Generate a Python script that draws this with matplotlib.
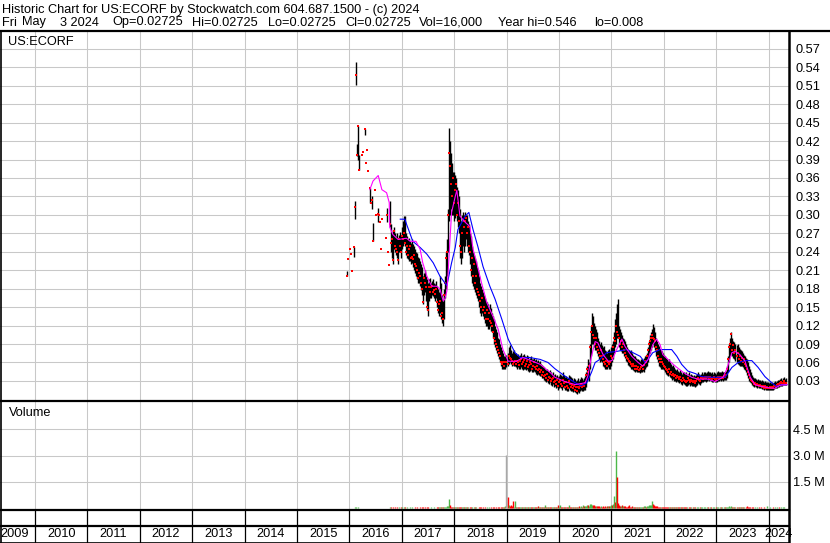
import numpy as np
import pandas as pd
import matplotlib
matplotlib.use('Agg')
import matplotlib.pyplot as plt
from matplotlib.lines import Line2D

# --- данные (недельные бары с 2015-12-07) ---
nan = np.nan
start_week = '2015-12-07'

hi = [
    nan, .208, .228, nan, .244, .236, .208, nan, .247, .322,
    .548, .416, .444, .398, nan, nan, .397, .402, nan, .440,
    .384, .406, .371, nan, .343, .320, .330, .286, nan, .341,
    .300, nan, .312, .300, .288, .244, .294, nan, nan, nan,
    .263, .312, .239, .219, .322, .285, .270, .275, .280, .270,
    .265, .270, .262, .268, .272, .265, .280, .290, .298, .298,
    .270, .265, .260, .262, .258, .255, .260, .252, .250, .245,
    .240, .238, .232, .230, .225, .220, .215, .200, .205, .210,
    .200, .195, .190, .195, .198, .190, .192, .195, .190, .188,
    .192, .185, .180, .175, .200, .190, .170, .160, .180, .200,
    .240, .260, .310, .442, .420, .400, .385, .370, .370, .365,
    .360, .345, .340, .330, .310, .290, .300, .305, .300, .305,
    .300, .300, .290, .285, .270, .265, .250, .240, .235, .230,
    .225, .215, .210, .200, .190, .185, .180, .175, .170, .165,
    .160, .158, .155, .150, .155, .148, .140, .135, .130, .120,
    .115, .110, .100, .098, .090, .085, .080, .075, .070, .070,
    .072, .075, .085, .089, .080, .075, .078, .080, .076, .075,
    .072, .074, .070, .072, .075, .070, .072, .074, .070, .068,
    .072, .070, .066, .068, .070, .066, .065, .068, .064, .065,
    .062, .064, .060, .062, .058, .056, .055, .052, .050, .048,
    .050, .046, .045, .048, .044, .042, .045, .040, .042, .038,
    .040, .036, .038, .042, .040, .038, .044, .040, .036, .038,
    .035, .034, .040, .038, .036, .034, .032, .035, .033, .030,
    .032, .034, .030, .033, .036, .034, .032, .035, .038, .045,
    .055, .065, .060, .090, .120, .141, .135, .125, .120, .115,
    .110, .100, .095, .090, .093, .088, .085, .086, .080, .078,
    .075, .080, .082, .078, .085, .090, .095, .110, .130, .140,
    .155, .164, .120, .114, .110, .105, .100, .098, .095, .090,
    .085, .082, .080, .078, .080, .075, .072, .070, .070, .068,
    .066, .065, .064, .062, .065, .066, .064, .068, .070, .072,
    .075, .085, .095, .105, .110, .115, .122, .118, .110, .100,
    .095, .090, .086, .082, .080, .078, .075, .072, .070, .068,
    .065, .062, .065, .060, .058, .055, .056, .052, .050, .048,
    .050, .046, .045, .048, .044, .042, .045, .044, .042, .044,
    .040, .042, .044, .040, .042, .040, .038, .040, .038, .040,
    .042, .044, .042, .040, .042, .044, .042, .044, .045, .043,
    .044, .046, .044, .045, .043, .044, .042, .044, .043, .042,
    .044, .046, .044, .045, .044, .046, .044, .045, .044, .046,
    .055, .070, .090, .100, .109, .100, .095, .093, .090, .088,
    .090, .085, .082, .080, .078, .075, .072, .070, .068, .065,
    .060, .055, .050, .045, .040, .036, .034, .035, .033, .032,
    .033, .031, .032, .030, .031, .030, .029, .030, .028, .029,
    .028, .027, .028, .027, .028, .027, .028, .030, .029, .030,
    .032, .031, .033, .035, .032, .034, .036, .033, .034,
]

lo = [
    nan, .200, .228, nan, .244, .236, .208, nan, .232, .293,
    .512, .395, .390, .373, nan, nan, .397, .402, nan, .430,
    .384, .406, .371, nan, .320, .320, .310, .257, nan, .341,
    .300, nan, .288, .300, .288, .244, .294, nan, nan, nan,
    .263, .288, .239, .219, .280, .240, .230, .220, .245, .240,
    .235, .230, .220, .240, .240, .230, .245, .250, .255, .250,
    .235, .230, .228, .225, .225, .220, .222, .215, .210, .205,
    .200, .195, .190, .190, .185, .178, .170, .155, .170, .175,
    .160, .145, .135, .160, .165, .165, .170, .168, .165, .160,
    .165, .150, .140, .135, .140, .130, .125, .119, .130, .165,
    .180, .200, .240, .290, .300, .310, .300, .300, .290, .295,
    .300, .290, .280, .270, .230, .220, .230, .250, .240, .250,
    .260, .250, .240, .235, .220, .200, .190, .185, .180, .175,
    .170, .165, .160, .150, .140, .135, .140, .135, .130, .125,
    .120, .120, .115, .115, .120, .112, .110, .100, .090, .085,
    .080, .075, .070, .065, .060, .055, .050, .050, .049, .050,
    .052, .055, .058, .060, .058, .055, .056, .055, .054, .052,
    .050, .052, .050, .050, .052, .050, .048, .050, .050, .048,
    .050, .046, .045, .046, .048, .044, .045, .046, .044, .042,
    .040, .042, .040, .038, .038, .035, .035, .032, .030, .028,
    .030, .026, .025, .028, .024, .022, .025, .020, .022, .018,
    .020, .016, .018, .020, .018, .016, .020, .018, .015, .016,
    .014, .013, .018, .016, .014, .013, .012, .014, .012, .010,
    .008, .012, .011, .013, .015, .014, .013, .015, .016, .020,
    .030, .035, .030, .050, .070, .090, .090, .085, .080, .080,
    .075, .070, .065, .060, .062, .060, .055, .052, .050, .050,
    .049, .052, .050, .050, .055, .060, .065, .075, .085, .090,
    .100, .100, .085, .080, .078, .076, .075, .070, .068, .062,
    .060, .056, .055, .052, .050, .050, .048, .046, .045, .046,
    .044, .045, .044, .043, .044, .045, .046, .045, .050, .052,
    .055, .060, .070, .075, .080, .085, .090, .085, .080, .070,
    .065, .060, .055, .052, .050, .050, .049, .048, .045, .042,
    .040, .038, .040, .036, .035, .032, .033, .030, .030, .028,
    .030, .028, .026, .028, .025, .024, .026, .025, .024, .022,
    .022, .024, .025, .022, .024, .022, .021, .022, .020, .022,
    .024, .026, .025, .024, .026, .028, .028, .030, .030, .029,
    .030, .031, .030, .031, .030, .029, .028, .030, .029, .028,
    .029, .030, .030, .031, .030, .031, .030, .032, .031, .032,
    .035, .045, .060, .070, .075, .070, .068, .065, .062, .060,
    .058, .056, .055, .054, .055, .052, .050, .048, .045, .040,
    .035, .030, .028, .026, .024, .022, .020, .021, .020, .019,
    .020, .018, .019, .018, .017, .017, .016, .017, .016, .016,
    .015, .016, .016, .015, .016, .016, .017, .018, .018, .018,
    .020, .020, .021, .022, .022, .023, .024, .023, .024,
]

cl = [
    nan, .200, .228, nan, .244, .236, .208, nan, .247, .313,
    .528, .398, .444, .373, nan, nan, .397, .402, nan, .439,
    .384, .406, .371, nan, .343, .320, .325, .258, nan, .341,
    .300, nan, .302, .300, .288, .244, .294, nan, nan, nan,
    .263, .300, .239, .219, .285, .255, .260, .226, .273, .250,
    .245, .239, .226, .260, .250, .240, .265, .260, .270, .255,
    .240, .250, .235, .245, .249, .230, .232, .228, .235, .220,
    .217, .210, .198, .205, .200, .190, .180, .158, .198, .190,
    .182, .150, .146, .182, .175, .182, .185, .174, .178, .172,
    .180, .158, .145, .155, .160, .135, .140, .130, .170, .190,
    .230, .240, .300, .400, .380, .350, .330, .360, .320, .340,
    .350, .300, .320, .290, .250, .240, .270, .290, .280, .290,
    .295, .270, .280, .250, .240, .210, .230, .200, .220, .190,
    .200, .180, .175, .170, .160, .150, .165, .145, .150, .140,
    .130, .145, .130, .140, .128, .125, .120, .110, .100, .095,
    .090, .085, .080, .075, .070, .060, .058, .060, .055, .060,
    .060, .057, .070, .068, .065, .062, .058, .060, .063, .058,
    .062, .060, .056, .062, .065, .058, .060, .064, .055, .058,
    .062, .052, .056, .060, .058, .050, .055, .060, .052, .050,
    .055, .048, .050, .045, .048, .040, .045, .038, .040, .035,
    .042, .032, .036, .034, .030, .033, .035, .028, .030, .025,
    .032, .022, .028, .030, .025, .022, .032, .026, .020, .028,
    .022, .018, .030, .025, .020, .024, .018, .022, .016, .020,
    .014, .020, .018, .022, .025, .020, .024, .022, .026, .040,
    .050, .045, .055, .085, .110, .120, .105, .100, .090, .100,
    .085, .080, .075, .070, .080, .070, .065, .060, .058, .062,
    .055, .060, .058, .060, .070, .068, .085, .100, .095, .120,
    .110, .105, .100, .090, .095, .085, .090, .080, .075, .070,
    .068, .065, .062, .060, .058, .055, .058, .054, .050, .055,
    .050, .052, .048, .050, .052, .055, .050, .056, .062, .060,
    .070, .080, .090, .095, .100, .105, .100, .098, .095, .085,
    .080, .070, .065, .060, .065, .060, .058, .055, .052, .050,
    .048, .045, .050, .042, .045, .040, .042, .038, .040, .035,
    .038, .036, .033, .036, .032, .030, .035, .032, .030, .028,
    .030, .034, .032, .028, .032, .030, .028, .030, .026, .030,
    .033, .035, .032, .030, .034, .036, .033, .035, .036, .034,
    .037, .036, .034, .037, .035, .033, .034, .036, .033, .032,
    .035, .036, .034, .037, .035, .036, .034, .038, .036, .040,
    .050, .065, .085, .090, .106, .080, .088, .075, .080, .070,
    .075, .065, .070, .062, .068, .060, .065, .058, .055, .050,
    .045, .040, .035, .032, .030, .028, .025, .027, .024, .025,
    .023, .022, .024, .022, .020, .022, .019, .021, .018, .020,
    .018, .019, .020, .018, .020, .019, .021, .022, .020, .024,
    .025, .023, .026, .028, .025, .027, .030, .026, .027,
]

# объём, тыс. акций
vol_k = [
    0, 40, 25, 0, 30, 20, 35, 0, 25, 60,
    80, 40, 50, 30, 0, 0, 20, 25, 0, 40,
    30, 25, 20, 0, 35, 20, 30, 45, 0, 20,
    25, 0, 40, 20, 25, 30, 20, 0, 0, 0,
    25, 40, 30, 45, 60, 50, 35, 70, 40, 55,
    45, 60, 40, 50, 35, 55, 60, 45, 80, 50,
    40, 55, 35, 45, 60, 40, 50, 35, 45, 55,
    40, 60, 45, 35, 50, 40, 55, 70, 45, 50,
    40, 60, 75, 45, 35, 50, 40, 45, 55, 40,
    35, 60, 70, 50, 65, 80, 60, 90, 70, 85,
    100, 150, 120, 530, 200, 90, 80, 70, 60, 75,
    65, 55, 70, 60, 85, 75, 50, 65, 55, 70,
    60, 50, 65, 45, 55, 70, 60, 45, 55, 50,
    60, 45, 40, 55, 50, 65, 45, 50, 40, 55,
    45, 60, 40, 50, 45, 55, 40, 50, 60, 45,
    55, 40, 50, 60, 45, 80, 60, 70, 90, 120,
    3060, 650, 180, 150, 200, 120, 420, 100, 420, 90,
    80, 70, 60, 90, 70, 60, 80, 65, 55, 70,
    60, 75, 50, 65, 55, 90, 60, 70, 55, 80,
    65, 140, 70, 60, 80, 65, 90, 75, 200, 70,
    60, 85, 70, 65, 90, 60, 75, 80, 65, 90,
    70, 200, 60, 200, 80, 70, 90, 65, 100, 75,
    85, 70, 200, 90, 75, 100, 80, 70, 95, 85,
    90, 80, 110, 100, 120, 90, 200, 110, 130, 150,
    180, 160, 140, 220, 260, 200, 160, 200, 150, 130,
    120, 140, 110, 100, 130, 90, 110, 100, 120, 90,
    110, 120, 130, 150, 180, 200, 260, 680, 350, 3250,
    1800, 300, 200, 150, 130, 160, 120, 110, 140, 100,
    90, 120, 200, 100, 90, 110, 80, 95, 85, 100,
    80, 90, 75, 85, 100, 80, 90, 120, 110, 100,
    130, 150, 180, 160, 200, 420, 230, 200, 140, 120,
    110, 90, 100, 80, 95, 85, 70, 90, 75, 80,
    70, 85, 60, 75, 65, 80, 60, 70, 55, 65,
    60, 70, 55, 65, 50, 60, 55, 65, 50, 60,
    55, 45, 60, 50, 55, 45, 60, 50, 55, 45,
    50, 60, 45, 55, 50, 60, 45, 50, 55, 45,
    50, 60, 45, 55, 50, 45, 55, 50, 45, 55,
    60, 50, 45, 55, 50, 60, 45, 50, 55, 60,
    70, 90, 110, 100, 130, 90, 80, 70, 75, 60,
    65, 55, 60, 50, 55, 60, 50, 45, 55, 120,
    60, 50, 55, 45, 50, 60, 45, 50, 40, 55,
    45, 50, 40, 55, 45, 40, 50, 45, 40, 120,
    45, 40, 50, 45, 40, 50, 45, 55, 40, 50,
    45, 55, 40, 50, 45, 55, 50, 40, 16,
]

# скользящие средние (точки, x в долях года)
ma_short_t = [2016.39, 2016.45, 2016.55, 2016.62, 2016.71, 2016.76, 2016.77, 2016.83, 2016.93,
              2017.09, 2017.16, 2017.27, 2017.35, 2017.40, 2017.48, 2017.57, 2017.67, 2017.73,
              2017.79, 2017.82, 2017.86, 2017.88, 2017.92, 2017.95, 2018.02, 2018.05, 2018.11,
              2018.21, 2018.30, 2018.36, 2018.43, 2018.52, 2018.62, 2018.74, 2018.84, 2018.93,
              2019.03, 2019.19, 2019.31, 2019.50, 2019.64, 2019.83, 2019.92, 2020.11, 2020.31,
              2020.50, 2020.55, 2020.62, 2020.69, 2020.74, 2020.84, 2020.94, 2021.01, 2021.10,
              2021.20, 2021.26, 2021.39, 2021.51, 2021.60, 2021.70, 2021.79, 2021.86, 2021.93,
              2021.98, 2022.08, 2022.18, 2022.25, 2022.37, 2022.53, 2022.65, 2022.84, 2022.98,
              2023.13, 2023.20, 2023.30, 2023.36, 2023.45, 2023.55, 2023.65, 2023.74, 2023.87,
              2023.99, 2024.12, 2024.22, 2024.35]
ma_short_v = [0.341, 0.355, 0.364, 0.341, 0.336, 0.320, 0.280, 0.268, 0.260,
              0.262, 0.257, 0.257, 0.244, 0.222, 0.200, 0.184, 0.184, 0.179,
              0.160, 0.163, 0.176, 0.200, 0.260, 0.304, 0.330, 0.340, 0.298,
              0.288, 0.281, 0.244, 0.222, 0.190, 0.158, 0.135, 0.114, 0.081,
              0.062, 0.062, 0.068, 0.062, 0.057, 0.044, 0.036, 0.029, 0.024,
              0.027, 0.038, 0.070, 0.094, 0.092, 0.073, 0.062, 0.063, 0.081,
              0.098, 0.086, 0.070, 0.060, 0.054, 0.065, 0.089, 0.098, 0.089,
              0.073, 0.065, 0.057, 0.052, 0.044, 0.036, 0.033, 0.033, 0.029,
              0.036, 0.049, 0.076, 0.078, 0.073, 0.062, 0.036, 0.024, 0.021,
              0.019, 0.018, 0.023, 0.024]

ma_long_t = [2016.97, 2017.06, 2017.09, 2017.21, 2017.35, 2017.48, 2017.60, 2017.73, 2017.86,
             2017.95, 2018.02, 2018.07, 2018.21, 2018.28, 2018.36, 2018.45, 2018.55, 2018.68,
             2018.78, 2018.91, 2019.03, 2019.16, 2019.26, 2019.45, 2019.64, 2019.79, 2019.92,
             2020.11, 2020.31, 2020.42, 2020.53, 2020.62, 2020.69, 2020.78, 2020.91, 2021.10,
             2021.29, 2021.41, 2021.55, 2021.64, 2021.70, 2021.79, 2021.93, 2022.06, 2022.15,
             2022.25, 2022.34, 2022.46, 2022.60, 2022.72, 2022.91, 2023.17, 2023.30, 2023.42,
             2023.55, 2023.68, 2023.80, 2023.93, 2024.06, 2024.15, 2024.25, 2024.35]
ma_long_v = [0.293, 0.293, 0.285, 0.257, 0.247, 0.236, 0.222, 0.200, 0.185,
             0.222, 0.247, 0.276, 0.298, 0.304, 0.276, 0.249, 0.216, 0.184,
             0.163, 0.130, 0.098, 0.076, 0.068, 0.068, 0.065, 0.060, 0.050,
             0.038, 0.027, 0.022, 0.027, 0.044, 0.060, 0.065, 0.076, 0.078,
             0.081, 0.076, 0.070, 0.060, 0.065, 0.076, 0.081, 0.081, 0.081,
             0.070, 0.057, 0.046, 0.042, 0.037, 0.036, 0.036, 0.052, 0.060,
             0.063, 0.063, 0.052, 0.037, 0.027, 0.021, 0.024, 0.024]

price_ticks = [0.03, 0.06, 0.09, 0.12, 0.15, 0.18, 0.21, 0.24, 0.27, 0.30,
               0.33, 0.36, 0.39, 0.42, 0.45, 0.48, 0.51, 0.54, 0.57]
vol_ticks = [1.5e6, 3.0e6, 4.5e6]
vol_tick_labels = ['1.5 M', '3.0 M', '4.5 M']
years = list(range(2009, 2025))

title1 = 'Historic Chart for US:ECORF by Stockwatch.com 604.687.1500 - (c) 2024'
# вторая строка заголовка: поля и их левые края (px)
info_fields = ['Fri', 'May', '3 2024', 'Op=0.02725', 'Hi=0.02725', 'Lo=0.02725',
               'Cl=0.02725', 'Vol=16,000', 'Year hi=0.546', 'lo=0.008']
info_x = [2, 22, 60, 112, 192, 268, 345, 419, 498, 594]

plt.rcParams['font.family'] = ['Liberation Sans', 'DejaVu Sans']
FS = 9.2

W, H = 830, 543
fig = plt.figure(figsize=(W / 100, H / 100), dpi=100)


def fx(px):
    return px / W


def fy(py):
    return 1 - py / H


X0 = 2010 - 35 / 52.4
X1 = 2010 + (789 - 35) / 52.4
GRID = '#C8C8C8'

dates = pd.date_range(start_week, periods=len(cl), freq='7D')
t = dates.year + (dates.dayofyear - 0.5) / 365.25
hi = np.array(hi)
lo = np.array(lo)
cl = np.array(cl)
vol = np.array(vol_k) * 1000.0

# --- панель цены ---
ax = fig.add_axes([0, fy(400), fx(789), (400 - 31) / H])
ax.set_xlim(X0, X1)
ax.set_ylim(-0.001, 0.599)
for y in price_ticks:
    ax.axhline(y, color=GRID, lw=0.75, zorder=0)
for yr in years[1:]:
    ax.axvline(yr, color=GRID, lw=0.75, zorder=0)
ax.vlines(t, lo, hi, color='black', lw=1.0, zorder=2)
ax.plot(t, cl, 's', color='red', ms=1.7, mew=0, zorder=3)
ax.plot(ma_long_t, ma_long_v, color='#0000FF', lw=0.8, zorder=4)
ax.plot(ma_short_t, ma_short_v, color='#FF00FF', lw=0.8, zorder=5)
ax.yaxis.tick_right()
ax.set_yticks(price_ticks)
ax.set_yticklabels([f'{v:.2f}' for v in price_ticks], fontsize=FS)
ax.tick_params(axis='y', length=0, pad=4.5)
ax.set_xticks([])
for s in ax.spines.values():
    s.set_visible(False)

# --- панель объёма ---
ax2 = fig.add_axes([0, fy(509), fx(789), (509 - 402) / H])
ax2.set_xlim(X0, X1)
ax2.set_ylim(-0.04e6, 6.05e6)
for y in vol_ticks:
    ax2.axhline(y, color=GRID, lw=0.75, zorder=0)
for yr in years[1:]:
    ax2.axvline(yr, color=GRID, lw=0.75, zorder=0)
prev = pd.Series(cl).ffill().shift(1).values
colors = np.where(cl > prev, '#4CB848', np.where(cl < prev, '#FF0000', '#A8A8A8'))
ax2.vlines(t, 0, vol, colors=colors, lw=1.0, zorder=2)
ax2.yaxis.tick_right()
ax2.set_yticks(vol_ticks)
ax2.set_yticklabels(vol_tick_labels, fontsize=FS)
ax2.tick_params(axis='y', length=0, pad=3)
ax2.set_xticks([])
for s in ax2.spines.values():
    s.set_visible(False)

# --- шкала дат ---
ax3 = fig.add_axes([0, 0, fx(789), (543 - 509) / H])
ax3.set_xlim(X0, X1)
ax3.set_ylim(0, 1)
ax3.axis('off')
for yr in years[1:]:
    ax3.axvline(yr, color='black', lw=0.9)
for yr in years:
    if yr < X0:
        ax3.text(X0 + 0.015, 0.26, str(yr), ha='left', va='center', fontsize=FS)
    else:
        ax3.text((yr + min(yr + 1, X1)) / 2, 0.26, str(yr), ha='center', va='center',
                 fontsize=FS)

# --- рамки ---
def hline(py, x0, x1, lw):
    fig.add_artist(Line2D([fx(x0), fx(x1)], [fy(py), fy(py)], color='black', lw=lw))


def vline(px, y0, y1, lw):
    fig.add_artist(Line2D([fx(px), fx(px)], [fy(y0), fy(y1)], color='black', lw=lw))


hline(31, 0, 830, 1.6)
hline(401, 0, 789, 1.6)
hline(509.5, 0, 789, 1.6)
hline(526, 0, 789, 1.6)
hline(542.5, 0, 789, 1.2)
vline(789, 31, 543, 1.8)
vline(0.5, 31, 543, 1.2)

# --- подписи ---
fig.text(fx(2), fy(10), title1, fontsize=FS, va='center', ha='left')
for s, px in zip(info_fields, info_x):
    fig.text(fx(px), fy(22.5), s, fontsize=FS, va='center', ha='left')
fig.text(fx(8), fy(42), 'US:ECORF', fontsize=FS, va='center', ha='left')
fig.text(fx(9), fy(413), 'Volume', fontsize=FS, va='center', ha='left')

fig.savefig('out.png', dpi=100)
